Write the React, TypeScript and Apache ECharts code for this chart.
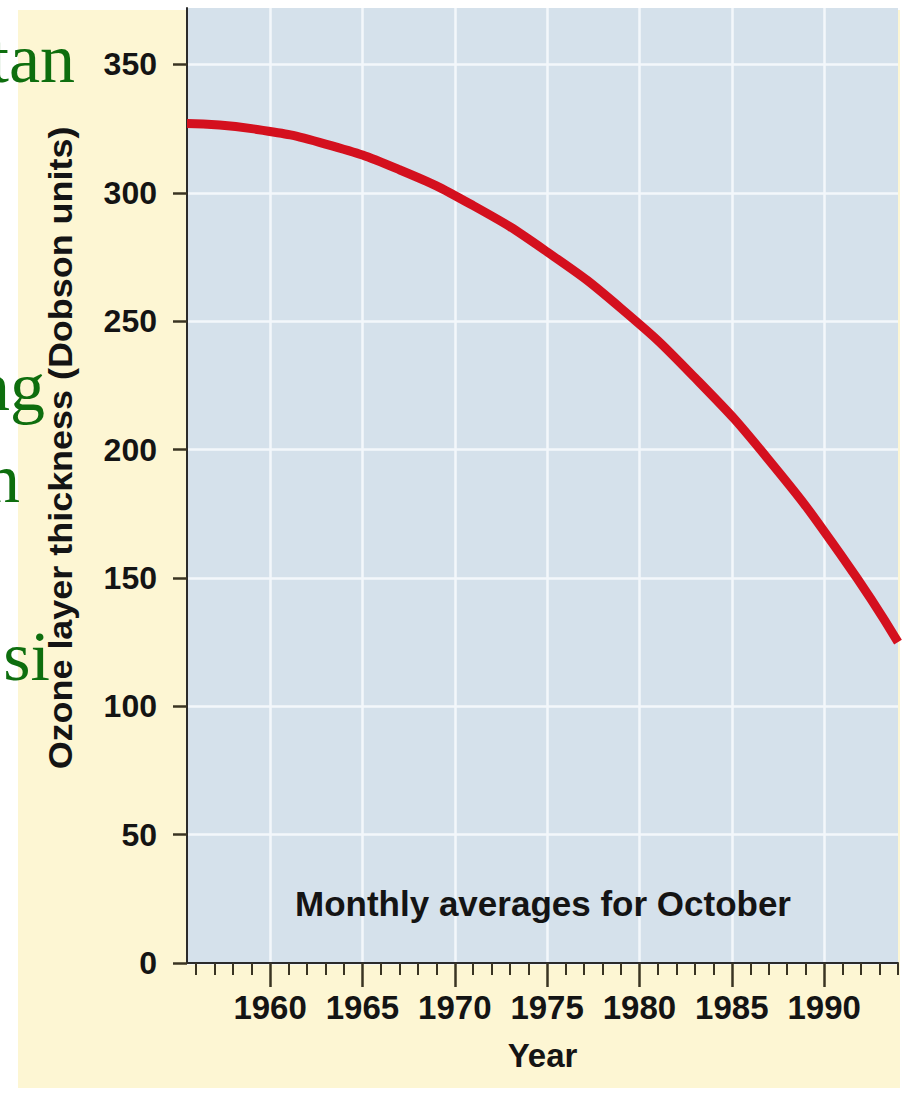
import React, { useEffect, useRef } from "react";
import * as echarts from "echarts";

// Data (ozone thickness, Dobson units)
const years = [1955.5, 1959, 1963, 1967, 1971, 1975, 1979, 1983, 1987, 1991, 1994];
const ozone = [327, 325, 319, 309, 295, 277, 255, 228, 196, 158, 125];

const majorYears = [1960, 1965, 1970, 1975, 1980, 1985, 1990];
const minorYears = [
  1956, 1957, 1958, 1959, 1961, 1962, 1963, 1964, 1966, 1967, 1968, 1969,
  1971, 1972, 1973, 1974, 1976, 1977, 1978, 1979, 1981, 1982, 1983, 1984,
  1986, 1987, 1988, 1989, 1991, 1992, 1993, 1994,
];
const yTicks = [0, 50, 100, 150, 200, 250, 300, 350];

const yTitle = "Ozone layer thickness (Dobson units)";
const xTitle = "Year";
const note = "Monthly averages for October";
const fragments = ["tan", "ng", "n", "si"];

const SANS = "'Liberation Sans', Arial, Helvetica, sans-serif";
const SERIF = "'Liberation Serif', 'Times New Roman', serif";
const INK = "#141414";
const TICK = "#3a3422";

export default function App() {
  const ref = useRef<HTMLDivElement>(null);

  useEffect(() => {
    document.body.style.margin = "0";
    const chart = echarts.init(ref.current!, null, { renderer: "svg" });

    // positions of the background text fragments (right edge, central line)
    const fragPos = [
      { x: 75, y: 58 },
      { x: 45, y: 386 },
      { x: 20, y: 478 },
      { x: 50, y: 656 },
    ];

    chart.setOption({
      animation: false,
      backgroundColor: "#ffffff",
      grid: {
        left: 187,
        right: 6,
        top: 8,
        bottom: 130,
        show: true,
        backgroundColor: "#d5e1eb",
        borderWidth: 0,
      },
      xAxis: [
        {
          type: "value",
          min: 1955.5,
          max: 1994,
          position: "bottom",
          axisLine: { show: true, onZero: false, lineStyle: { color: "#2b2b2b", width: 2 } },
          axisTick: {
            show: true,
            customValues: majorYears,
            length: 24,
            lineStyle: { color: TICK, width: 2.5 },
          },
          axisLabel: {
            customValues: majorYears,
            formatter: (v: number) => String(v),
            margin: 28,
            fontSize: 33,
            fontWeight: "bold",
            fontFamily: SANS,
            color: INK,
          },
          splitLine: { show: true, lineStyle: { color: "#f3f7fb", width: 2.5 } },
          name: xTitle,
          nameLocation: "middle",
          nameGap: 76,
          nameTextStyle: { fontSize: 33, fontWeight: "bold", fontFamily: SANS, color: INK },
        },
        {
          type: "value",
          min: 1955.5,
          max: 1994,
          position: "bottom",
          axisLine: { show: false },
          axisTick: {
            show: true,
            customValues: minorYears,
            length: 12,
            lineStyle: { color: TICK, width: 2 },
          },
          axisLabel: { show: false },
          splitLine: { show: false },
        },
      ],
      yAxis: {
        type: "value",
        min: 0,
        max: 372,
        axisLine: { show: true, lineStyle: { color: "#2b2b2b", width: 2 } },
        axisTick: {
          show: true,
          customValues: yTicks,
          length: 14,
          lineStyle: { color: TICK, width: 2.5 },
        },
        axisLabel: {
          customValues: yTicks,
          formatter: (v: number) => String(v),
          margin: 30,
          fontSize: 32,
          fontWeight: "bold",
          fontFamily: SANS,
          color: INK,
        },
        splitLine: { show: true, lineStyle: { color: "#f3f7fb", width: 2.5 } },
      },
      series: [
        {
          type: "line",
          xAxisIndex: 0,
          data: years.map((y, i) => [y, ozone[i]]),
          smooth: 0.5,
          symbol: "none",
          showSymbol: false,
          lineStyle: { color: "#d4101e", width: 9 },
        },
      ],
      graphic: [
        {
          type: "rect",
          z: -10,
          silent: true,
          shape: { x: 18, y: 10, width: 882, height: 1078 },
          style: { fill: "#fdf6d3" },
        },
        {
          type: "text",
          z: 50,
          x: 60,
          y: 448,
          rotation: Math.PI / 2,
          scaleX: 1.057,
          style: {
            text: yTitle,
            fontSize: 34,
            fontWeight: "bold",
            fontFamily: SANS,
            fill: INK,
            align: "center",
            verticalAlign: "middle",
          },
        },
        {
          type: "text",
          z: 50,
          x: 543,
          y: 903,
          style: {
            text: note,
            fontSize: 35,
            fontWeight: "bold",
            fontFamily: SANS,
            fill: INK,
            align: "center",
            verticalAlign: "middle",
          },
        },
        ...fragments.map((t, i) => ({
          type: "text",
          z: 100,
          x: fragPos[i].x,
          y: fragPos[i].y,
          style: {
            text: t,
            fontSize: 70,
            fontFamily: SERIF,
            fill: "#0e6e0e",
            align: "right",
            verticalAlign: "middle",
          },
        })),
      ],
    });

    return () => chart.dispose();
  }, []);

  return (
    <div
      ref={ref}
      style={{ position: "absolute", left: 0, top: 0, width: 904, height: 1093 }}
    />
  );
}
